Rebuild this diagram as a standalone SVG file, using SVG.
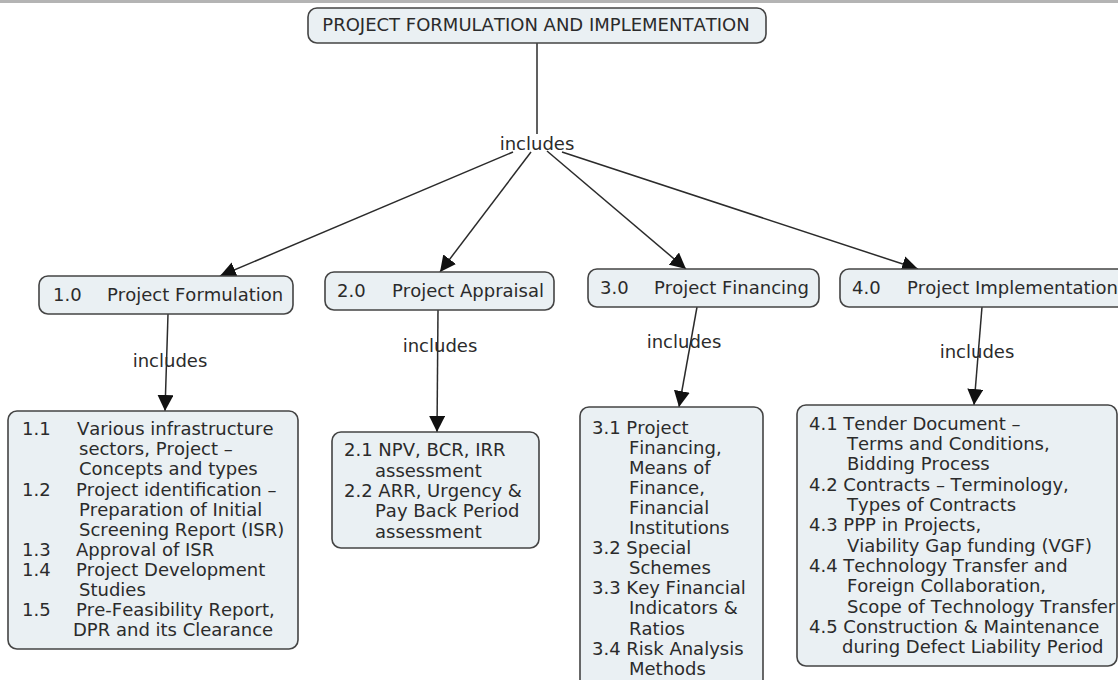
<svg xmlns="http://www.w3.org/2000/svg" width="1118" height="680" viewBox="0 0 1118 680">
<style>
.box{fill:#eaf0f3;stroke:#444;stroke-width:1.6}
text{font-family:"DejaVu Sans",Verdana,sans-serif;font-size:18px;font-kerning:none;fill:#2b2b2b}
.ln{stroke:#2b2b2b;stroke-width:1.5;fill:none}
</style>
<defs>
<marker id="ah" viewBox="0 0 10 10" refX="10" refY="5" markerWidth="16" markerHeight="16" markerUnits="userSpaceOnUse" orient="auto">
<path d="M0,0 L10,5 L0,10 z" fill="#111"/>
</marker>
</defs>
<rect x="0" y="0" width="1118" height="3" fill="#b4b4b4"/>
<g id="connectors">
<line class="ln" x1="537" y1="43" x2="537" y2="134"/>
<line class="ln" x1="513" y1="152" x2="220" y2="276" marker-end="url(#ah)"/>
<line class="ln" x1="531" y1="152" x2="440" y2="272" marker-end="url(#ah)"/>
<line class="ln" x1="547" y1="151" x2="686" y2="269" marker-end="url(#ah)"/>
<line class="ln" x1="562" y1="152" x2="918" y2="269" marker-end="url(#ah)"/>
<line class="ln" x1="168" y1="314" x2="165" y2="411" marker-end="url(#ah)"/>
<line class="ln" x1="438" y1="310" x2="437" y2="432" marker-end="url(#ah)"/>
<line class="ln" x1="697" y1="307" x2="679" y2="407" marker-end="url(#ah)"/>
<line class="ln" x1="982" y1="307" x2="974" y2="405" marker-end="url(#ah)"/>
<text x="537" y="150" text-anchor="middle">includes</text>
<text x="170" y="367" text-anchor="middle">includes</text>
<text x="440" y="352" text-anchor="middle">includes</text>
<text x="684" y="348" text-anchor="middle">includes</text>
<text x="977" y="358" text-anchor="middle">includes</text>
</g>
<g id="root">
<rect class="box" x="308" y="8" width="458" height="35" rx="9"/>
<text x="536" y="31" text-anchor="middle">PROJECT FORMULATION AND IMPLEMENTATION</text>
</g>
<g id="n1">
<rect class="box" x="39" y="276" width="254" height="38" rx="9"/>
<text y="300.5"><tspan x="53">1.0</tspan><tspan x="107">Project Formulation</tspan></text>
</g>
<g id="n2">
<rect class="box" x="325" y="272" width="229" height="38" rx="9"/>
<text y="296.5"><tspan x="337">2.0</tspan><tspan x="392">Project Appraisal</tspan></text>
</g>
<g id="n3">
<rect class="box" x="588" y="269" width="231" height="38" rx="9"/>
<text y="293.5"><tspan x="600">3.0</tspan><tspan x="654">Project Financing</tspan></text>
</g>
<g id="n4">
<rect class="box" x="840" y="269" width="290" height="38" rx="9"/>
<text y="293.5"><tspan x="852">4.0</tspan><tspan x="907">Project Implementation</tspan></text>
</g>
<g id="d1">
<rect class="box" x="8" y="411" width="290" height="238" rx="9"/>
<text>
<tspan x="22" y="435">1.1</tspan><tspan x="77" y="435">Various infrastructure</tspan>
<tspan x="79" y="455">sectors, Project –</tspan>
<tspan x="79" y="475">Concepts and types</tspan>
<tspan x="22" y="495.5">1.2</tspan><tspan x="76" y="495.5">Project identification –</tspan>
<tspan x="79" y="515.5">Preparation of Initial</tspan>
<tspan x="79" y="535.5">Screening Report (ISR)</tspan>
<tspan x="22" y="556">1.3</tspan><tspan x="76" y="556">Approval of ISR</tspan>
<tspan x="22" y="576">1.4</tspan><tspan x="76" y="576">Project Development</tspan>
<tspan x="79" y="596">Studies</tspan>
<tspan x="22" y="616">1.5</tspan><tspan x="76" y="616">Pre-Feasibility Report,</tspan>
<tspan x="73" y="636">DPR and its Clearance</tspan>
</text>
</g>
<g id="d2">
<rect class="box" x="332" y="432" width="207" height="116" rx="9"/>
<text>
<tspan x="344" y="456">2.1 NPV, BCR, IRR</tspan>
<tspan x="375" y="476.5">assessment</tspan>
<tspan x="344" y="497">2.2 ARR, Urgency &amp;</tspan>
<tspan x="375" y="517">Pay Back Period</tspan>
<tspan x="375" y="537.5">assessment</tspan>
</text>
</g>
<g id="d3">
<rect class="box" x="580" y="407" width="183" height="290" rx="9"/>
<text>
<tspan x="592" y="433.5">3.1 Project</tspan>
<tspan x="629" y="453.6">Financing,</tspan>
<tspan x="629" y="473.7">Means of</tspan>
<tspan x="629" y="493.8">Finance,</tspan>
<tspan x="629" y="513.9">Financial</tspan>
<tspan x="629" y="534">Institutions</tspan>
<tspan x="592" y="554.1">3.2 Special</tspan>
<tspan x="629" y="574.2">Schemes</tspan>
<tspan x="592" y="594.3">3.3 Key Financial</tspan>
<tspan x="629" y="614.4">Indicators &amp;</tspan>
<tspan x="629" y="634.5">Ratios</tspan>
<tspan x="592" y="654.6">3.4 Risk Analysis</tspan>
<tspan x="629" y="674.7">Methods</tspan>
</text>
</g>
<g id="d4">
<rect class="box" x="797" y="405" width="320" height="261" rx="9"/>
<text>
<tspan x="809" y="429.5">4.1 Tender Document –</tspan>
<tspan x="847" y="449.9">Terms and Conditions,</tspan>
<tspan x="847" y="470.2">Bidding Process</tspan>
<tspan x="809" y="490.6">4.2 Contracts – Terminology,</tspan>
<tspan x="847" y="510.9">Types of Contracts</tspan>
<tspan x="809" y="531.3">4.3 PPP in Projects,</tspan>
<tspan x="847" y="551.6">Viability Gap funding (VGF)</tspan>
<tspan x="809" y="572">4.4 Technology Transfer and</tspan>
<tspan x="847" y="592.3">Foreign Collaboration,</tspan>
<tspan x="847" y="612.7">Scope of Technology Transfer</tspan>
<tspan x="809" y="633">4.5 Construction &amp; Maintenance</tspan>
<tspan x="842" y="653.4">during Defect Liability Period</tspan>
</text>
</g>
</svg>
